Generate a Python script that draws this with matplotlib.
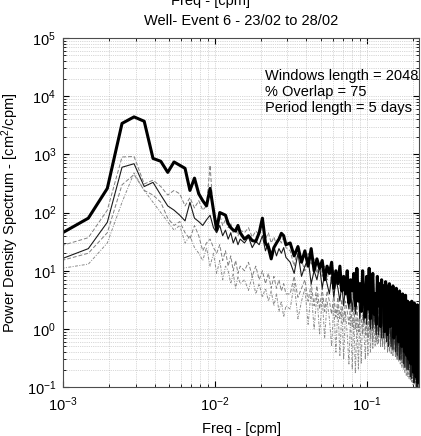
import numpy as np
import matplotlib
matplotlib.use("Agg")
from matplotlib import pyplot as plt

# Welch bins (window 2048, fs = 1 cpm): every bin, then every 2nd, then every 4th
bins = np.concatenate([np.arange(2, 31), np.arange(32, 61, 2), np.arange(64, 449, 4)])
freq = bins / 2048.0

# thick black spectrum
psd_main = [44, 80, 260, 3400, 4400, 3700, 850, 760, 490, 740,
            650, 575, 240, 390, 210, 160, 130, 260, 110, 50,
            100, 95, 90, 65, 55, 50, 48, 60, 45,
            35, 40, 33, 32, 45, 80, 30, 25, 16, 25, 30, 35, 44, 40, 28,
            30, 18, 26, 14, 22, 12, 24, 10, 16, 11,
            15, 7, 12, 9, 14, 5, 10, 6, 12, 4.5,
            8, 4, 10, 2.8, 7, 4.5, 9, 2.5, 11, 3,
            6, 2, 10, 3.5, 1.6, 8, 2.2, 11, 1.5, 5,
            9, 1.8, 4, 1.2, 8, 2.5, 6, 1.1, 7, 3,
            5.5, 0.9, 6.5, 2, 0.8, 5, 6, 1.1, 4.5, 2.2,
            5.5, 0.7, 3, 0.8, 5, 1.5, 4, 0.6, 4.5, 1.2,
            2.5, 0.5, 4, 0.9, 3.5, 0.4, 3.8, 1.2, 0.35, 3,
            2.2, 0.3, 2.8, 0.5, 0.25, 3, 0.6, 2.6, 0.18, 2.8,
            0.4, 2.4, 0.15, 1.5, 2.6, 0.12, 2.5]

# thin black spectrum
psd_thin = [16, 24, 68, 600, 690, 280, 330, 200, 130, 110,
            90, 72, 150, 80, 70, 60, 75, 90, 55, 45,
            60, 40, 50, 35, 45, 30, 38, 28, 35,
            30, 38, 25, 32, 28, 40, 22, 30, 20, 26, 18, 24, 20, 25, 17,
            14, 9, 20, 8, 12, 16, 6, 10, 7, 12,
            5, 9, 6, 4, 8, 3.5, 7, 5, 3, 6,
            2.5, 5.5, 3.5, 2.2, 5, 2, 4.5, 1.8, 3.5, 5,
            1.5, 4.5, 2.5, 1.3, 4, 1.2, 3.5, 2, 1, 4,
            1, 3.2, 1.6, 0.8, 3, 0.8, 2.8, 1.4, 0.7, 2.6,
            0.7, 2.2, 1.2, 0.6, 2.4, 0.5, 2, 1, 0.5, 1.8,
            0.45, 1.9, 0.9, 0.4, 1.7, 0.35, 1.6, 0.7, 0.3, 1.4,
            0.3, 1.3, 0.6, 0.25, 1.2, 0.22, 1.1, 0.5, 0.2, 0.9,
            0.2, 0.8, 0.4, 0.15, 0.7, 0.14, 0.65, 0.3, 0.12, 0.5,
            0.12, 0.45, 0.25, 0.1, 0.4, 0.1, 0.35]

# upper grey dashed
psd_upper = [27, 37, 110, 900, 920, 310, 360, 280, 200, 240,
             210, 130, 180, 120, 160, 110, 130, 650, 90, 70,
             90, 60, 75, 55, 65, 45, 55, 40, 50,
             45, 55, 38, 48, 42, 60, 35, 45, 30, 38, 28, 36, 30, 38, 25,
             22, 12, 28, 15, 10, 20, 13, 16, 9, 14,
             8, 12, 7, 11, 6, 10, 6, 9, 5, 8,
             4.5, 8, 5, 4, 7, 3.5, 7.5, 3.5, 6, 3,
             6.5, 2.8, 4, 6, 2.5, 5.5, 2.6, 5, 2.2, 5.5,
             2, 4.5, 3, 1.8, 4.5, 1.8, 4, 1.8, 4.2, 1.6,
             3.5, 1.5, 2.5, 3.8, 1.4, 3.2, 1.3, 3.4, 1.2, 3,
             1.1, 3.2, 1, 2.7, 1.8, 0.9, 2.8, 0.9, 2.5, 0.8,
             2.6, 0.8, 2.2, 1.4, 0.7, 2.4, 0.7, 2, 0.6, 2.1,
             0.6, 1.8, 1.1, 0.5, 1.9, 0.5, 1.6, 0.45, 1.6, 0.4,
             1.4, 0.38, 1.5, 0.35, 1.3, 0.3, 1.2]

# lower grey dashed
psd_lower = [15, 20, 45, 300, 450, 240, 200, 150, 80, 60,
             70, 45, 35, 60, 40, 22, 30, 35, 25, 20,
             28, 15, 22, 12, 18, 10, 15, 9, 12,
             10, 14, 8, 12, 7, 10, 6, 9, 5, 8, 5, 7, 4.5, 6, 4,
             4, 8, 3.5, 5, 7, 3, 6, 2.5, 5.5, 2.2,
             5, 2, 4.5, 3, 1.8, 4, 1.6, 3.5, 1.5, 3.2,
             1.3, 3, 2, 1.2, 2.8, 1.1, 2.5, 1, 2.6, 0.9,
             2.2, 1.5, 0.8, 2.4, 0.8, 2, 0.7, 2.2, 0.7, 1.8,
             0.6, 2, 1.2, 0.6, 1.6, 0.55, 1.7, 0.5, 1.5, 0.5,
             1.6, 0.45, 1, 1.4, 0.4, 1.3, 0.4, 1.2, 0.38, 1.3,
             0.35, 1.1, 0.7, 0.32, 1.2, 0.3, 1, 0.3, 1, 0.28,
             0.9, 0.26, 0.6, 0.95, 0.24, 0.85, 0.22, 0.8, 0.2, 0.75,
             0.2, 0.7, 0.4, 0.18, 0.65, 0.17, 0.6, 0.16, 0.55, 0.15,
             0.5, 0.14, 0.45, 0.13, 0.42, 0.12, 0.4]

# lowest grey dash-dot
psd_low2 = [11, 13, 30, 150, 480, 240, 150, 100, 70, 50,
            60, 30, 40, 25, 20, 15, 25, 12, 20, 9,
            15, 7, 12, 10, 6, 9, 5, 8, 6,
            7, 4.6, 8, 4, 6, 3.5, 5, 3, 4.5, 2.5, 4, 2, 3, 1.6, 2.5,
            2.2, 6, 1.5, 3, 5, 1.2, 4.5, 1, 4, 0.8,
            3.5, 0.7, 3, 1.5, 0.5, 2.8, 0.4, 2.5, 0.35, 2.2,
            0.3, 2, 0.8, 0.25, 1.8, 0.2, 1.6, 0.17, 1.5, 0.2,
            1.7, 0.25, 1.8, 0.9, 0.3, 1.6, 0.35, 1.8, 0.4, 1.5,
            0.45, 1.7, 0.5, 1.6, 0.55, 1.5, 0.9, 0.6, 1.4, 0.55,
            1.3, 0.6, 1.2, 0.6, 1.2, 0.55, 1.1, 0.5, 1, 0.45,
            0.95, 0.4, 0.9, 0.35, 0.85, 0.3, 0.8, 0.28, 0.7, 0.25,
            0.7, 0.22, 0.65, 0.2, 0.6, 0.18, 0.55, 0.16, 0.5, 0.15,
            0.5, 0.14, 0.45, 0.13, 0.45, 0.12, 0.4, 0.11, 0.38, 0.11,
            0.35, 0.1, 0.32, 0.1, 0.3, 0.1, 0.28]

info = ["Windows length = 2048", "% Overlap = 75", "Period length = 5 days"]

plt.rcParams['font.family'] = ['Liberation Sans', 'DejaVu Sans']
plt.rcParams['mathtext.fontset'] = 'custom'
plt.rcParams['mathtext.rm'] = 'Liberation Sans'
plt.rcParams['mathtext.it'] = 'Liberation Sans'
plt.rcParams['font.size'] = 10.5

fig = plt.figure(figsize=(4.21, 4.36), dpi=100)
ax = fig.add_axes([0.150, 0.112, 0.845, 0.801])

ax.loglog(freq, psd_low2, color='0.55', lw=0.7, ls=(0, (3, 1.5, 1, 1.5)))
ax.loglog(freq, psd_lower, color='0.5', lw=0.7, ls=(0, (4, 2)))
ax.loglog(freq, psd_upper, color='0.5', lw=0.7, ls=(0, (4, 2)))
ax.loglog(freq, psd_thin, color='0.1', lw=0.8)
ax.loglog(freq, psd_main, color='black', lw=2.2)

ax.set_xlim(1e-3, 0.22)
ax.set_ylim(1e-1, 1e5)
ax.grid(True, which='both', ls=':', lw=0.5, color='0.7')
ax.tick_params(which='both', direction='in', top=True, right=True)
ax.tick_params(which='major', length=4, labelsize=10.5)
ax.tick_params(axis='x', which='major', pad=6)
ax.tick_params(axis='y', which='major', pad=5)
ax.tick_params(which='minor', length=2)
for s in ax.spines.values():
    s.set_color('0.3')

ax.set_title("Well- Event 6 - 23/02 to 28/02", fontsize=10.5, pad=9)
ax.set_xlabel("Freq - [cpm]", fontsize=10.5, labelpad=6)
ax.set_ylabel("Power Density Spectrum - [cm$^2$/cpm]", fontsize=10.5)
ax.yaxis.set_label_coords(-0.118, 0.5)
fig.text(0.5, 0.998, "Freq - [cpm]", ha='center', va='center', fontsize=10.5)

ax.text(0.568, 0.91, "\n".join(info), transform=ax.transAxes,
        ha='left', va='top', fontsize=10.5, linespacing=1.15)

fig.savefig("out.png", dpi=100)
